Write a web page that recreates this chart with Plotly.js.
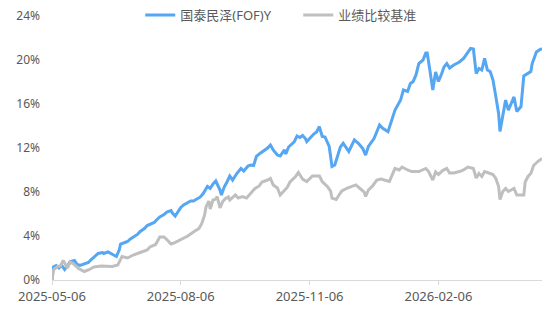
<!DOCTYPE html>
<html><head><meta charset="utf-8">
<script src="https://cdn.plot.ly/plotly-3.0.1.min.js"></script>
<style>html,body{margin:0;padding:0;background:#fff;}#chart{width:550px;height:309px;}</style>
</head><body><div id="chart"></div>
<script>
const fundName = '国泰民泽(FOF)Y';
const benchName = '业绩比较基准';

const fundDates = ['2025-05-06','2025-05-07','2025-05-09','2025-05-11','2025-05-13','2025-05-15','2025-05-17','2025-05-19','2025-05-22','2025-05-24','2025-05-26','2025-05-29','2025-06-01','2025-06-03','2025-06-06','2025-06-08','2025-06-11','2025-06-12','2025-06-15','2025-06-17','2025-06-19','2025-06-21','2025-06-23','2025-06-24','2025-06-27','2025-06-29','2025-07-01','2025-07-03','2025-07-06','2025-07-08','2025-07-11','2025-07-13','2025-07-15','2025-07-18','2025-07-20','2025-07-22','2025-07-25','2025-07-27','2025-07-30','2025-07-31','2025-08-02','2025-08-04','2025-08-06','2025-08-08','2025-08-11','2025-08-13','2025-08-15','2025-08-18','2025-08-20','2025-08-22','2025-08-25','2025-08-27','2025-08-29','2025-08-31','2025-09-03','2025-09-04','2025-09-06','2025-09-08','2025-09-10','2025-09-12','2025-09-15','2025-09-18','2025-09-20','2025-09-23','2025-09-25','2025-09-27','2025-09-29','2025-10-02','2025-10-04','2025-10-07','2025-10-09','2025-10-11','2025-10-14','2025-10-16','2025-10-19','2025-10-20','2025-10-22','2025-10-24','2025-10-26','2025-10-28','2025-10-30','2025-11-01','2025-11-03','2025-11-04','2025-11-07','2025-11-09','2025-11-11','2025-11-13','2025-11-15','2025-11-17','2025-11-20','2025-11-21','2025-11-22','2025-11-24','2025-11-26','2025-11-28','2025-11-30','2025-12-03','2025-12-04','2025-12-08','2025-12-11','2025-12-14','2025-12-16','2025-12-18','2025-12-22','2025-12-26','2025-12-28','2026-01-01','2026-01-04','2026-01-06','2026-01-10','2026-01-12','2026-01-15','2026-01-17','2026-01-19','2026-01-21','2026-01-23','2026-01-26','2026-01-28','2026-01-29','2026-01-31','2026-02-02','2026-02-04','2026-02-06','2026-02-08','2026-02-10','2026-02-12','2026-02-14','2026-02-17','2026-02-21','2026-02-24','2026-02-27','2026-03-01','2026-03-03','2026-03-05','2026-03-07','2026-03-09','2026-03-11','2026-03-13','2026-03-15','2026-03-17','2026-03-19','2026-03-21','2026-03-22','2026-03-24','2026-03-26','2026-03-28','2026-03-30','2026-04-01','2026-04-03','2026-04-06','2026-04-08','2026-04-11','2026-04-13','2026-04-14','2026-04-17','2026-04-19','2026-04-21'];
const fundValues = [0.00,1.18,1.32,1.09,1.32,0.95,1.27,1.68,1.77,1.41,1.32,1.45,1.59,1.86,2.18,2.41,2.50,2.41,2.55,2.41,2.23,2.14,2.73,3.27,3.41,3.50,3.73,3.91,4.14,4.41,4.68,4.95,5.09,5.23,5.50,5.73,5.95,6.18,6.32,6.09,5.82,6.18,6.59,6.82,7.00,7.18,7.18,7.36,7.55,7.86,8.50,8.32,8.73,9.00,8.18,7.73,8.45,8.91,9.45,9.09,9.68,10.14,9.91,10.36,10.45,10.41,11.23,11.55,11.73,12.00,12.27,11.82,11.36,11.27,11.82,11.45,12.09,12.36,12.55,13.09,12.95,13.14,12.86,12.59,13.05,13.27,13.45,13.95,13.05,13.00,12.14,10.91,10.32,10.45,11.27,12.09,12.43,11.91,11.68,12.73,12.41,11.95,11.36,12.14,12.86,14.09,13.82,13.48,14.55,15.45,16.36,17.27,17.14,17.86,18.05,18.64,19.68,20.00,20.64,20.64,19.00,17.27,18.91,18.05,18.64,19.36,19.68,19.27,19.55,19.82,20.14,20.73,21.05,21.00,18.77,19.23,19.09,20.14,19.09,18.95,18.18,16.68,15.14,13.50,15.14,16.36,15.45,16.05,16.64,15.32,15.77,18.55,18.77,18.95,19.68,20.73,20.91,21.05];

const benchDates = ['2025-05-06','2025-05-07','2025-05-10','2025-05-12','2025-05-14','2025-05-17','2025-05-19','2025-05-21','2025-05-25','2025-05-29','2025-06-01','2025-06-05','2025-06-10','2025-06-14','2025-06-18','2025-06-22','2025-06-25','2025-06-29','2025-07-03','2025-07-08','2025-07-13','2025-07-15','2025-07-19','2025-07-22','2025-07-25','2025-07-27','2025-07-30','2025-08-01','2025-08-04','2025-08-06','2025-08-09','2025-08-11','2025-08-15','2025-08-19','2025-08-21','2025-08-23','2025-08-24','2025-08-26','2025-08-27','2025-08-29','2025-08-31','2025-09-01','2025-09-03','2025-09-05','2025-09-07','2025-09-09','2025-09-10','2025-09-14','2025-09-16','2025-09-19','2025-09-22','2025-09-25','2025-09-28','2025-10-01','2025-10-03','2025-10-07','2025-10-09','2025-10-11','2025-10-14','2025-10-16','2025-10-19','2025-10-21','2025-10-23','2025-10-27','2025-10-29','2025-11-01','2025-11-04','2025-11-08','2025-11-13','2025-11-15','2025-11-19','2025-11-21','2025-11-22','2025-11-25','2025-11-27','2025-11-29','2025-12-03','2025-12-07','2025-12-09','2025-12-12','2025-12-15','2025-12-16','2025-12-18','2025-12-21','2025-12-24','2025-12-27','2025-12-29','2026-01-02','2026-01-04','2026-01-06','2026-01-09','2026-01-11','2026-01-15','2026-01-18','2026-01-23','2026-01-25','2026-01-28','2026-01-30','2026-02-02','2026-02-04','2026-02-06','2026-02-09','2026-02-12','2026-02-14','2026-02-17','2026-02-21','2026-02-24','2026-02-27','2026-03-01','2026-03-03','2026-03-05','2026-03-07','2026-03-09','2026-03-11','2026-03-14','2026-03-17','2026-03-19','2026-03-21','2026-03-22','2026-03-24','2026-03-26','2026-03-28','2026-03-30','2026-04-01','2026-04-03','2026-04-06','2026-04-08','2026-04-09','2026-04-11','2026-04-13','2026-04-15','2026-04-18','2026-04-21'];
const benchValues = [0.00,0.91,1.23,1.27,1.77,1.09,1.64,1.50,1.05,0.77,0.91,1.18,1.27,1.23,1.23,1.36,2.14,2.00,2.27,2.50,2.73,3.00,3.23,3.91,3.91,3.68,3.27,3.36,3.55,3.64,3.82,4.00,4.36,4.68,5.14,5.91,6.64,7.18,6.45,7.27,7.36,7.59,6.55,7.14,7.41,7.55,7.27,7.73,7.45,7.59,7.45,7.86,8.32,8.55,8.91,9.09,9.23,8.64,8.36,7.73,8.18,8.41,8.91,9.41,9.77,9.18,8.95,9.45,9.45,8.95,8.45,8.09,7.45,7.32,7.73,8.09,8.36,8.50,8.64,8.32,8.00,7.59,8.18,8.55,9.09,9.18,9.09,8.95,9.55,10.14,10.00,10.27,10.00,9.86,9.86,10.00,10.14,9.86,9.09,9.82,9.59,9.95,10.14,9.73,9.73,9.86,10.00,10.27,10.18,10.14,9.27,9.68,9.41,9.86,9.73,9.59,9.23,8.50,7.32,8.05,8.32,8.05,8.18,8.32,7.73,7.73,7.73,8.91,9.41,9.68,10.41,10.77,11.05];

const xTickVals = ['2025-05-06','2025-08-06','2025-11-06','2026-02-06'];
const xTickText = ['2025-05-06','2025-08-06','2025-11-06','2026-02-06'];
const yTickVals = [0,4,8,12,16,20,24];
const yTickText = ['0%','4%','8%','12%','16%','20%','24%'];

if (fundDates.length !== fundValues.length || benchDates.length !== benchValues.length) {
  throw new Error('length mismatch ' + fundDates.length + ' ' + fundValues.length + ' ' + benchDates.length + ' ' + benchValues.length);
}

const FONT = '"Noto Sans", "Noto Sans CJK SC", sans-serif';
const traces = [
  {x: fundDates, y: fundValues, name: fundName, type: 'scatter', mode: 'lines',
   line: {color: '#55A6F3', width: 3}},
  {x: benchDates, y: benchValues, name: benchName, type: 'scatter', mode: 'lines',
   line: {color: '#BFBFBF', width: 3}}
];
const layout = {
  width: 550, height: 309,
  margin: {l: 52, r: 8, t: 16, b: 29, autoexpand: false},
  paper_bgcolor: '#fff', plot_bgcolor: '#fff',
  font: {family: FONT, color: '#595959', size: 13},
  showlegend: true,
  legend: {orientation: 'h', xref: 'container', yref: 'container', x: 0.255, xanchor: 'left',
           y: 1, yanchor: 'top', font: {family: FONT, size: 13, color: '#595959'},
           bgcolor: 'rgba(0,0,0,0)', entrywidth: 113, itemwidth: 30},
  xaxis: {type: 'date', range: ['2025-05-06', '2026-04-21'], tickmode: 'array',
          tickvals: xTickVals, ticktext: xTickText, showgrid: false, zeroline: false,
          showline: true, linecolor: '#D9D9D9', linewidth: 1, ticks: 'outside', ticklen: 4,
          tickcolor: '#D9D9D9', tickfont: {family: FONT, size: 13, color: '#595959'}},
  yaxis: {range: [0, 24], tickmode: 'array', tickvals: yTickVals, ticktext: yTickText,
          showgrid: false, zeroline: false, showline: false, ticks: '',
          ticklabelstandoff: 11, tickfont: {family: FONT, size: 12, color: '#595959'}}
};
Plotly.newPlot('chart', traces, layout, {staticPlot: true, displayModeBar: false});
</script>
</body></html>
